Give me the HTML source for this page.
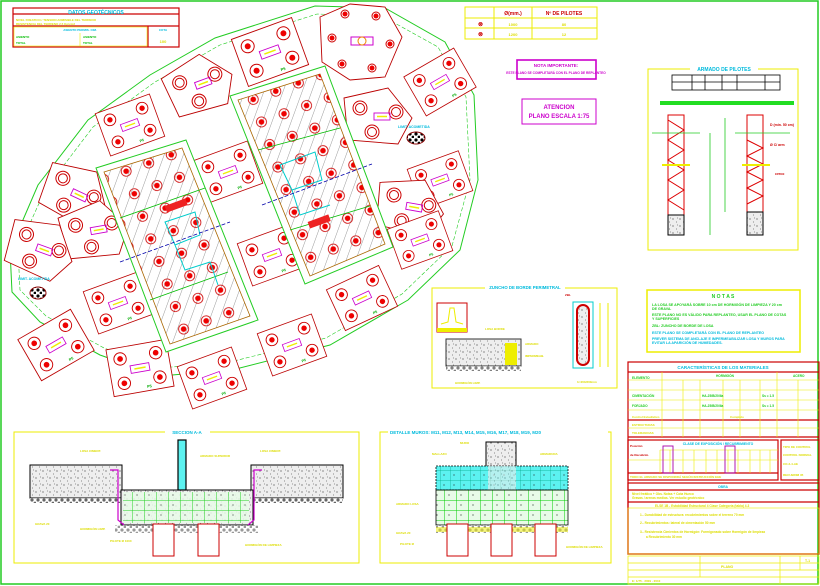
<!DOCTYPE html>
<html><head><meta charset="utf-8"><style>
html,body{margin:0;padding:0;background:#fff;}
svg{display:block;font-family:"Liberation Sans",sans-serif;}
svg text{font-weight:bold;}
</style></head><body>
<svg width="820" height="586" viewBox="0 0 820 586" xmlns="http://www.w3.org/2000/svg">
<defs>
<pattern id="hatch" width="9" height="9" patternUnits="userSpaceOnUse" patternTransform="rotate(20)">
<line x1="0" y1="0" x2="0" y2="9" stroke="#555" stroke-width="0.6"/></pattern>
<pattern id="piles" width="24" height="24" patternUnits="userSpaceOnUse" patternTransform="rotate(-20)">
<circle cx="12" cy="12" r="5" fill="none" stroke="#c00" stroke-width="0.8"/><circle cx="12" cy="12" r="2.8" fill="#e00"/></pattern>
<pattern id="conc" width="7" height="7" patternUnits="userSpaceOnUse">
<rect width="7" height="7" fill="#eee"/><circle cx="1" cy="2" r="0.6" fill="#444"/><circle cx="4.5" cy="5" r="0.5" fill="#666"/><circle cx="5.5" cy="1" r="0.4" fill="#222"/></pattern>
<pattern id="grid" width="10" height="10" patternUnits="userSpaceOnUse">
<rect width="10" height="10" fill="#5cf2f0"/><path d="M0 0H10M0 0V10" stroke="#0a8" stroke-width="0.7"/><circle cx="4" cy="5" r="0.6" fill="#333"/></pattern>
<pattern id="gridg" width="12" height="10" patternUnits="userSpaceOnUse">
<rect width="12" height="10" fill="#e8fbe8"/><path d="M0 0H12M0 0V10" stroke="#0c0" stroke-width="1"/><circle cx="5" cy="5" r="0.6" fill="#333"/></pattern>
<pattern id="gravel" width="6" height="6" patternUnits="userSpaceOnUse">
<rect width="6" height="6" fill="#fff"/><circle cx="2" cy="2" r="1.6" fill="#000"/><circle cx="5" cy="5" r="1.4" fill="#000"/></pattern>
<g id="cap">
<rect x="-32" y="-25" width="64" height="50" fill="#fff" stroke="#b00" stroke-width="0.9"/>
<circle cx="-19" cy="-13" r="6.5" fill="none" stroke="#c00"/><circle cx="-19" cy="-13" r="3" fill="#e00"/>
<circle cx="19" cy="-13" r="6.5" fill="none" stroke="#c00"/><circle cx="19" cy="-13" r="3" fill="#e00"/>
<circle cx="-19" cy="13" r="6.5" fill="none" stroke="#c00"/><circle cx="-19" cy="13" r="3" fill="#e00"/>
<circle cx="19" cy="13" r="6.5" fill="none" stroke="#c00"/><circle cx="19" cy="13" r="3" fill="#e00"/>
<rect x="-10" y="-4" width="20" height="8" fill="none" stroke="#c0c" stroke-width="0.9"/><line x1="-6" y1="0" x2="6" y2="0" stroke="#ee0" stroke-width="1.5"/>
<text x="4" y="22" font-size="4" fill="#0a0">P5</text>
</g>
<g id="cap3">
<polygon points="-34,-20 10,-30 34,0 20,26 -30,22" fill="#fff" stroke="#b00" stroke-width="0.9"/>
<circle cx="-18" cy="-10" r="7" fill="none" stroke="#c00"/><circle cx="-18" cy="-10" r="4.5" fill="none" stroke="#c00"/>
<circle cx="18" cy="-6" r="7" fill="none" stroke="#c00"/><circle cx="18" cy="-6" r="4.5" fill="none" stroke="#c00"/>
<circle cx="-6" cy="14" r="7" fill="none" stroke="#c00"/><circle cx="-6" cy="14" r="4.5" fill="none" stroke="#c00"/>
<rect x="-4" y="-5" width="16" height="7" fill="none" stroke="#c0c" stroke-width="0.9"/><line x1="-1" y1="-1.5" x2="9" y2="-1.5" stroke="#ee0" stroke-width="1.5"/>
</g>
</defs>

<rect x="1" y="1" width="817" height="583" fill="none" stroke="#2c2" stroke-width="1.5"/>

<polygon points="10,250 38,185 88,120 150,75 215,38 315,6 385,8 445,42 474,95 478,180 460,250 408,300 330,345 232,370 160,376 100,355 40,322 12,292" fill="none" stroke="#2c2" stroke-width="1"/>
<polygon points="18,250 45,190 93,127 155,82 220,45 317,14 382,16 438,47 466,97 470,180 452,246 402,294 326,338 230,362 160,368 104,348 46,316 20,290" fill="none" stroke="#2c2" stroke-width="0.6" stroke-dasharray="4,2"/>

<use href="#cap3" transform="translate(200,86) rotate(-20)"/>
<use href="#cap" transform="translate(270,52) rotate(-20)"/>
<g transform="translate(360,42)">
<polygon points="-40,-25 -10,-38 25,-35 42,-5 25,35 -10,38 -38,20" fill="#fff" stroke="#b00" stroke-width="0.9"/>
<circle cx="-15" cy="-28" r="4" fill="none" stroke="#c00"/><circle cx="-15" cy="-28" r="2.5" fill="#e00"/>
<circle cx="16" cy="-26" r="4" fill="none" stroke="#c00"/><circle cx="16" cy="-26" r="2.5" fill="#e00"/>
<circle cx="-28" cy="-4" r="4" fill="none" stroke="#c00"/><circle cx="-28" cy="-4" r="2.5" fill="#e00"/>
<circle cx="30" cy="2" r="4" fill="none" stroke="#c00"/><circle cx="30" cy="2" r="2.5" fill="#e00"/>
<circle cx="-18" cy="22" r="4" fill="none" stroke="#c00"/><circle cx="-18" cy="22" r="2.5" fill="#e00"/>
<circle cx="12" cy="26" r="4" fill="none" stroke="#c00"/><circle cx="12" cy="26" r="2.5" fill="#e00"/>
<rect x="-9" y="-5" width="22" height="8" fill="none" stroke="#c0c"/><circle cx="2" cy="-1" r="4" fill="none" stroke="#e80"/>
</g>
<use href="#cap" transform="translate(440,82) rotate(-30) scale(0.9)"/>
<use href="#cap" transform="translate(130,125) rotate(-20) scale(0.9)"/>
<use href="#cap3" transform="translate(378,118)"/>
<use href="#cap" transform="translate(440,180) rotate(-20) scale(0.85)"/>
<use href="#cap3" transform="translate(410,208) rotate(10)"/>
<use href="#cap" transform="translate(420,240) rotate(-20) scale(0.85)"/>
<use href="#cap" transform="translate(228,172) rotate(-20) scale(0.9)"/>
<use href="#cap" transform="translate(272,255) rotate(-20) scale(0.9)"/>
<use href="#cap" transform="translate(362,298) rotate(-25) scale(0.9)"/>
<use href="#cap" transform="translate(292,345) rotate(-20) scale(0.9)"/>
<use href="#cap3" transform="translate(75,195) rotate(25)"/>
<use href="#cap3" transform="translate(95,232) rotate(-10)"/>
<use href="#cap3" transform="translate(40,250) rotate(20)"/>
<use href="#cap" transform="translate(118,303) rotate(-20) scale(0.9)"/>
<use href="#cap" transform="translate(56,345) rotate(-30) scale(0.95)"/>
<use href="#cap" transform="translate(140,368) rotate(-10) scale(0.95)"/>
<use href="#cap" transform="translate(212,378) rotate(-20) scale(0.9)"/>

<polygon points="96,168 186,140 258,320 166,352" fill="#fff" stroke="#2c2" stroke-width="1"/>
<polygon points="104,172 182,148 250,316 170,344" fill="url(#hatch)" stroke="#a60" stroke-width="0.8"/>
<polygon points="104,172 182,148 250,316 170,344" fill="url(#piles)"/>
<polygon points="230,96 325,66 393,247 305,284" fill="#fff" stroke="#2c2" stroke-width="1"/>
<polygon points="238,100 320,74 385,244 310,276" fill="url(#hatch)" stroke="#a60" stroke-width="0.8"/>
<polygon points="238,100 320,74 385,244 310,276" fill="url(#piles)"/>
<g stroke="#0b0" stroke-width="0.8" fill="none">
<line x1="120" y1="218" x2="205" y2="188"/><line x1="150" y1="300" x2="228" y2="272"/>
<line x1="258" y1="150" x2="340" y2="128"/><line x1="290" y1="230" x2="370" y2="206"/>
</g>
<g stroke="#0cc" stroke-width="1" fill="none">
<path d="M165 222 L195 212 L200 235 L175 245 Z M175 245 L185 270 L210 262 L218 285"/>
<path d="M280 165 L315 152 L322 180 L292 190 Z M292 190 L300 215 L330 205"/>
</g>
<g stroke="#00a" stroke-width="0.8" stroke-dasharray="4,2">
<line x1="120" y1="262" x2="230" y2="222"/><line x1="262" y1="205" x2="372" y2="164"/>
</g>
<rect x="165" y="202" width="22" height="7" fill="#e22" transform="rotate(-20 176 205)"/>
<rect x="308" y="218" width="22" height="7" fill="#e22" transform="rotate(-20 319 221)"/>

<ellipse cx="38" cy="293" rx="8" ry="6" fill="url(#gravel)" stroke="#800"/>
<ellipse cx="416" cy="138" rx="9" ry="6" fill="url(#gravel)" stroke="#800"/>
<text x="18" y="280" font-size="3.5" fill="#0bd">LIMIT. ACOMETIDA</text>
<text x="398" y="128" font-size="3.5" fill="#0bd">LIMIT. ACOMETIDA</text>

<g stroke="#c00" fill="none" stroke-width="1.2">
<rect x="13" y="8" width="166" height="39"/><line x1="13" y1="14" x2="179" y2="14"/><line x1="13" y1="26" x2="179" y2="26"/><line x1="148" y1="26" x2="148" y2="47"/>
</g>
<rect x="14" y="27" width="133" height="19" fill="none" stroke="#ee0" stroke-width="0.6"/>
<line x1="80" y1="33" x2="80" y2="46" stroke="#ee0" stroke-width="0.6"/>
<text x="96" y="14" font-size="5" fill="#0bd" text-anchor="middle">DATOS GEOTÉCNICOS</text>
<text x="16" y="21" font-size="3" fill="#dd0">NIVEL FREATICO / TENSION ADMISIBLE DEL TERRENO</text>
<text x="16" y="25" font-size="3" fill="#dd0">RESISTENCIA DEL TERRENO 2,5 Kp/cm2</text>
<text x="80" y="31" font-size="3" fill="#0bd" text-anchor="middle">ASIENTO PERMIS. CIM.</text>
<text x="163" y="31" font-size="3" fill="#0bd" text-anchor="middle">COTA</text>
<text x="163" y="43" font-size="4" fill="#dd0" text-anchor="middle">100</text>
<text x="16" y="38" font-size="3" fill="#0b0">ASIENTO</text><text x="83" y="38" font-size="3" fill="#0b0">ASIENTO</text>
<text x="16" y="44" font-size="3" fill="#0b0">TOTAL</text><text x="83" y="44" font-size="3" fill="#0b0">TOTAL</text>

<g stroke="#ee0" fill="none" stroke-width="1">
<rect x="465" y="7" width="132" height="32"/><line x1="465" y1="18" x2="597" y2="18"/><line x1="465" y1="28" x2="597" y2="28"/>
<line x1="494" y1="7" x2="494" y2="39"/><line x1="532" y1="7" x2="532" y2="39"/>
</g>
<text x="513" y="15" font-size="5" fill="#c00" text-anchor="middle">Ø(mm.)</text>
<text x="564" y="15" font-size="5" fill="#c00" text-anchor="middle">Nº DE PILOTES</text>
<text x="478" y="26" font-size="6" fill="#c00">⊗</text><text x="478" y="36" font-size="6" fill="#c00">⊗</text>
<text x="513" y="26" font-size="4" fill="#dd0" text-anchor="middle">1000</text><text x="564" y="26" font-size="4" fill="#dd0" text-anchor="middle">80</text>
<text x="513" y="36" font-size="4" fill="#dd0" text-anchor="middle">1200</text><text x="564" y="36" font-size="4" fill="#dd0" text-anchor="middle">12</text>

<rect x="517" y="60" width="79" height="19" fill="none" stroke="#c0c" stroke-width="1.6"/>
<text x="556" y="67" font-size="4.5" fill="#c0c" text-anchor="middle">NOTA IMPORTANTE:</text>
<text x="556" y="74" font-size="3.2" fill="#c0c" text-anchor="middle">ESTE PLANO SE COMPLETARÁ CON EL PLANO DE REPLANTEO</text>
<rect x="522" y="99" width="74" height="25" fill="none" stroke="#c0c" stroke-width="1"/>
<text x="559" y="109" font-size="6" fill="#c0c" text-anchor="middle" font-weight="normal">ATENCION</text>
<text x="559" y="118" font-size="6" fill="#c0c" text-anchor="middle" font-weight="normal">PLANO ESCALA 1:75</text>

<rect x="648" y="69" width="150" height="181" fill="none" stroke="#ee0" stroke-width="1"/>
<rect x="690" y="65" width="68" height="8" fill="#fff"/>
<text x="724" y="71" font-size="5" fill="#0bd" text-anchor="middle">ARMADO DE PILOTES</text>
<g stroke="#000" fill="none" stroke-width="0.8">
<rect x="672" y="75" width="108" height="15"/><line x1="672" y1="82" x2="780" y2="82"/>
<line x1="692" y1="75" x2="692" y2="90"/><line x1="705" y1="75" x2="705" y2="90"/><line x1="722" y1="75" x2="722" y2="90"/><line x1="737" y1="75" x2="737" y2="90"/><line x1="765" y1="75" x2="765" y2="90"/>
</g>
<rect x="660" y="101" width="134" height="4" fill="#2d2"/>
<g stroke="#d00" fill="none" stroke-width="1">
<rect x="668" y="115" width="16" height="100"/><path d="M668 120 L684 130 L668 140 L684 150 L668 160 L684 170 L668 180 L684 190 L668 200 L684 210"/>
<rect x="747" y="115" width="16" height="100"/><path d="M747 140 L763 148 L747 156 L763 164 L747 172 L763 180 L747 188 L763 196 L747 204"/>
</g>
<rect x="668" y="215" width="16" height="20" fill="url(#conc)" stroke="#000"/>
<rect x="747" y="212" width="16" height="23" fill="url(#conc)" stroke="#000"/>
<g stroke="#2c2" fill="none" stroke-width="0.8">
<line x1="710" y1="133" x2="710" y2="235"/><line x1="725" y1="118" x2="725" y2="212"/>
<line x1="652" y1="133" x2="700" y2="133"/><line x1="735" y1="133" x2="790" y2="133"/>
</g>
<line x1="662" y1="165" x2="690" y2="165" stroke="#ee0" stroke-width="2"/><line x1="742" y1="165" x2="770" y2="165" stroke="#ee0" stroke-width="2"/>
<text x="770" y="126" font-size="3.5" fill="#c00">D (min. 50 cm)</text>
<text x="770" y="146" font-size="3.5" fill="#c00">Ø C/ arm</text>
<text x="775" y="175" font-size="3.5" fill="#c00">cerco</text>

<rect x="647" y="290" width="153" height="62" fill="none" stroke="#ee0" stroke-width="1.5"/>
<text x="723" y="298" font-size="5" fill="#2c2" text-anchor="middle">N O T A S</text>
<g font-size="3.6" fill="#2c2">
<text x="652" y="306">LA LOSA SE APOYARÁ SOBRE 10 cm DE HORMIGÓN DE LIMPIEZA Y 20 cm</text>
<text x="652" y="310">DE GRAVA.</text>
<text x="652" y="316">ESTE PLANO NO ES VÁLIDO PARA REPLANTEO, USAR EL PLANO DE COTAS</text>
<text x="652" y="320">Y SUPERFICIES</text>
<text x="652" y="327">ZBL: ZUNCHO DE BORDE DE LOSA</text>
</g>
<g font-size="3.6" fill="#0bd">
<text x="652" y="334">ESTE PLANO SE COMPLETARÁ CON EL PLANO DE REPLANTEO</text>
<text x="652" y="340">PREVER SISTEMA DE ANCLAJE E IMPERMEABILIZAR LOSA Y MUROS PARA</text>
<text x="652" y="344">EVITAR LA APARICIÓN DE HUMEDADES.</text>
</g>

<g stroke="#c00" fill="none" stroke-width="1.2">
<rect x="628" y="362" width="191" height="192"/>
<line x1="628" y1="372" x2="819" y2="372"/><line x1="628" y1="420" x2="819" y2="420"/><line x1="628" y1="437" x2="819" y2="437"/>
<rect x="628" y="440" width="150" height="40"/><rect x="781" y="440" width="38" height="40"/>
<line x1="628" y1="473" x2="778" y2="473"/>
<rect x="628" y="483" width="191" height="71"/><line x1="628" y1="490" x2="819" y2="490"/><line x1="628" y1="502" x2="819" y2="502"/>
</g>
<g stroke="#ee0" fill="none" stroke-width="0.6">
<line x1="628" y1="380" x2="819" y2="380"/><line x1="628" y1="390" x2="819" y2="390"/><line x1="628" y1="400" x2="819" y2="400"/><line x1="628" y1="410" x2="819" y2="410"/><line x1="628" y1="428" x2="819" y2="428"/>
<line x1="662" y1="372" x2="662" y2="437"/><line x1="683" y1="380" x2="683" y2="437"/><line x1="700" y1="380" x2="700" y2="437"/><line x1="723" y1="380" x2="723" y2="437"/><line x1="740" y1="380" x2="740" y2="437"/><line x1="760" y1="380" x2="760" y2="437"/><line x1="777" y1="372" x2="777" y2="437"/><line x1="798" y1="380" x2="798" y2="437"/>
<line x1="660" y1="450" x2="778" y2="450"/><line x1="628" y1="460" x2="778" y2="460"/>
<line x1="660" y1="450" x2="660" y2="473"/><line x1="670" y1="450" x2="670" y2="473"/><line x1="683" y1="450" x2="683" y2="473"/><line x1="694" y1="450" x2="694" y2="473"/><line x1="706" y1="450" x2="706" y2="473"/><line x1="717" y1="450" x2="717" y2="473"/><line x1="728" y1="450" x2="728" y2="473"/><line x1="738" y1="450" x2="738" y2="473"/><line x1="750" y1="450" x2="750" y2="473"/><line x1="760" y1="450" x2="760" y2="473"/><line x1="770" y1="450" x2="770" y2="473"/>
<rect x="628" y="508" width="191" height="46"/>
</g>
<rect x="663" y="446" width="10" height="27" fill="none" stroke="#a0a" stroke-width="0.9"/>
<rect x="725" y="446" width="10" height="27" fill="none" stroke="#a0a" stroke-width="0.9"/>
<text x="723" y="369" font-size="4.5" fill="#0bd" text-anchor="middle">CARACTERÍSTICAS DE LOS MATERIALES</text>
<g font-size="3.2" fill="#2c2">
<text x="632" y="379">ELEMENTO</text><text x="716" y="377">HORMIGÓN</text><text x="793" y="377">ACERO</text>
<text x="632" y="397">CIMENTACIÓN</text><text x="702" y="397">HA-25/B/20/IIa</text><text x="762" y="397">Ss = 1.5</text>
<text x="632" y="407">FORJADO</text><text x="702" y="407">HA-25/B/20/IIa</text><text x="762" y="407">Ss = 1.5</text>
</g>
<g font-size="3" fill="#dd0">
<text x="632" y="418">Control Estadístico</text><text x="730" y="418">Completo</text>
<text x="632" y="426">ESTRUCTURAS</text><text x="632" y="434">TOLERANCIAS</text>
<text x="630" y="447" fill="#c00">Posición</text><text x="630" y="456" fill="#c00">de Recubrim.</text>
<text x="630" y="478" fill="#dd0">TODO EL ARMADO SE DISPONDRÁ SEGÚN INSTRUCCIÓN EHE</text>
<text x="783" y="448">TIPO DE CONTROL</text><text x="783" y="456">CONTROL NORMAL</text><text x="783" y="465">CO-2-4-AE</text><text x="783" y="476">RECUBRIM 35</text>
</g>
<text x="718" y="445" font-size="3.4" fill="#0bd" text-anchor="middle">CLASE DE EXPOSICIÓN / RECUBRIMIENTO</text>
<text x="723" y="488" font-size="3.4" fill="#0bd" text-anchor="middle">OBRA</text>
<g font-size="3.2" fill="#dd0">
<text x="632" y="495">Nivel freático + Obs. Notas + Cota Hueco</text>
<text x="632" y="499">Gravas / arenas medias. Ver estudio geotécnico</text>
<text x="655" y="507">ELSE 1B - Estabilidad Estructural 4 Clase    Categoría (tabla) 4.3</text>
<text x="640" y="516">1.- Durabilidad de estructura: recubrimientos sobre el terreno 70 mm</text>
<text x="640" y="524">2.- Recubrimientos: lateral de cimentación 50 mm</text>
<text x="640" y="533">3.- Resistencia Cimientos de Hormigón: Formigonado sobre Hormigón de limpieza</text>
<text x="646" y="538">a Recubrimiento 30 mm</text>
</g>
<g stroke="#ee0" fill="none" stroke-width="0.7">
<rect x="628" y="556" width="191" height="28"/><line x1="628" y1="563" x2="819" y2="563"/><line x1="628" y1="570" x2="819" y2="570"/><line x1="628" y1="577" x2="819" y2="577"/>
<line x1="700" y1="556" x2="700" y2="577"/><line x1="780" y1="556" x2="780" y2="584"/><line x1="800" y1="556" x2="800" y2="570"/>
</g>
<text x="721" y="568" font-size="3.5" fill="#dd0">PLANO</text><text x="805" y="562" font-size="3.5" fill="#dd0">T-1</text>
<text x="632" y="582" font-size="3" fill="#dd0">E: 1/75 · 2009 · 2010</text>

<rect x="432" y="288" width="185" height="100" fill="none" stroke="#ee0" stroke-width="1"/>
<rect x="485" y="284" width="80" height="8" fill="#fff"/>
<text x="525" y="289" font-size="4.3" fill="#0bd" text-anchor="middle">ZUNCHO DE BORDE PERIMETRAL</text>
<rect x="437" y="303" width="30" height="29" fill="none" stroke="#c00" stroke-width="1"/>
<rect x="437" y="328" width="30" height="4" fill="#ee0"/>
<path d="M441 324 L448 322 L450 308 L454 308 L456 322 L463 324" stroke="#ee0" fill="none"/>
<rect x="446" y="339" width="75" height="27" fill="url(#conc)" stroke="#333"/>
<rect x="505" y="343" width="12" height="22" fill="#ee0"/>
<rect x="446" y="366" width="75" height="5" fill="url(#gravel)" opacity="0.5"/>
<rect x="573" y="302" width="20" height="66" fill="none" stroke="#0cc" stroke-width="1"/>
<rect x="577" y="305" width="12" height="60" rx="6" fill="url(#conc)" stroke="#c00" stroke-width="2"/>
<line x1="600" y1="303" x2="600" y2="367" stroke="#ee0"/><line x1="608" y1="303" x2="608" y2="367" stroke="#ee0"/>
<g font-size="3" fill="#dd0"><text x="485" y="330">LOSA BORDE</text><text x="525" y="345">ARMADO</text><text x="525" y="357">IMPERMEAB.</text><text x="455" y="384">HORMIGÓN LIMP.</text><text x="577" y="383">h=200/300mm</text><text x="565" y="296" fill="#c00">ZBL</text></g>

<rect x="14" y="432" width="345" height="131" fill="none" stroke="#ee0" stroke-width="1"/>
<rect x="165" y="428" width="45" height="8" fill="#fff"/>
<text x="187" y="434" font-size="4.5" fill="#0bd" text-anchor="middle">SECCION A-A</text>
<rect x="30" y="465" width="92" height="33" fill="url(#conc)" stroke="#000" stroke-width="1"/>
<rect x="251" y="465" width="92" height="33" fill="url(#conc)" stroke="#000" stroke-width="1"/>
<rect x="30" y="498" width="92" height="5" fill="url(#gravel)" opacity="0.6"/>
<rect x="251" y="498" width="92" height="5" fill="url(#gravel)" opacity="0.6"/>
<rect x="121" y="490" width="132" height="35" fill="url(#conc)" stroke="#000" stroke-width="1"/>
<rect x="123" y="492" width="126" height="31" fill="url(#gridg)" opacity="0.85"/>
<rect x="178" y="440" width="8" height="50" fill="#5cf2f0" stroke="#000" stroke-width="1.2"/>
<path d="M110 470 L118 470 L118 520 L124 525" stroke="#c0c" fill="none" stroke-width="1.2"/>
<path d="M262 470 L254 470 L254 520 L248 525" stroke="#c0c" fill="none" stroke-width="1.2"/>
<rect x="115" y="525" width="143" height="8" fill="url(#gravel)" opacity="0.4"/>
<rect x="153" y="524" width="21" height="32" fill="#fff" stroke="#c00"/>
<rect x="198" y="524" width="21" height="32" fill="#fff" stroke="#c00"/>
<g font-size="3" fill="#dd0"><text x="80" y="452">LOSA CIMENT.</text><text x="200" y="457">ARMADO SUPERIOR</text><text x="260" y="452">LOSA CIMENT.</text><text x="35" y="525">GRAVA 20</text><text x="80" y="530">HORMIGÓN LIMP.</text><text x="245" y="546">HORMIGÓN DE LIMPIEZA</text><text x="110" y="542">PILOTE Ø 1000</text></g>

<rect x="380" y="432" width="231" height="131" fill="none" stroke="#ee0" stroke-width="1"/>
<rect x="388" y="428" width="220" height="8" fill="#fff"/>
<text x="390" y="434" font-size="4.5" fill="#0bd">DETALLE MUROS: M11, M12, M13, M14, M15, M16, M17, M18, M19, M20</text>
<rect x="486" y="442" width="30" height="28" fill="url(#conc)" stroke="#000" stroke-width="1"/>
<rect x="436" y="466" width="132" height="24" fill="url(#grid)" stroke="#000" stroke-width="0.8" stroke-dasharray="2,1"/>
<rect x="488" y="466" width="28" height="24" fill="url(#conc)" opacity="0.6"/>
<rect x="436" y="490" width="132" height="35" fill="url(#gridg)" stroke="#000" stroke-width="0.8"/>
<rect x="436" y="525" width="132" height="8" fill="url(#gravel)" opacity="0.4"/>
<rect x="436" y="527" width="132" height="5" fill="#ee0" opacity="0.5"/>
<rect x="447" y="524" width="21" height="32" fill="#fff" stroke="#c00"/>
<rect x="491" y="524" width="21" height="32" fill="#fff" stroke="#c00"/>
<rect x="535" y="524" width="21" height="32" fill="#fff" stroke="#c00"/>
<g font-size="3" fill="#dd0"><text x="432" y="455">MALLAZO</text><text x="540" y="455">ARMADURA</text><text x="396" y="505">ARMADO LOSA</text><text x="396" y="534">GRAVA 20</text><text x="400" y="545">PILOTE Ø</text><text x="566" y="548">HORMIGÓN DE LIMPIEZA</text><text x="460" y="444">MURO</text></g>
</svg>
</body></html>
